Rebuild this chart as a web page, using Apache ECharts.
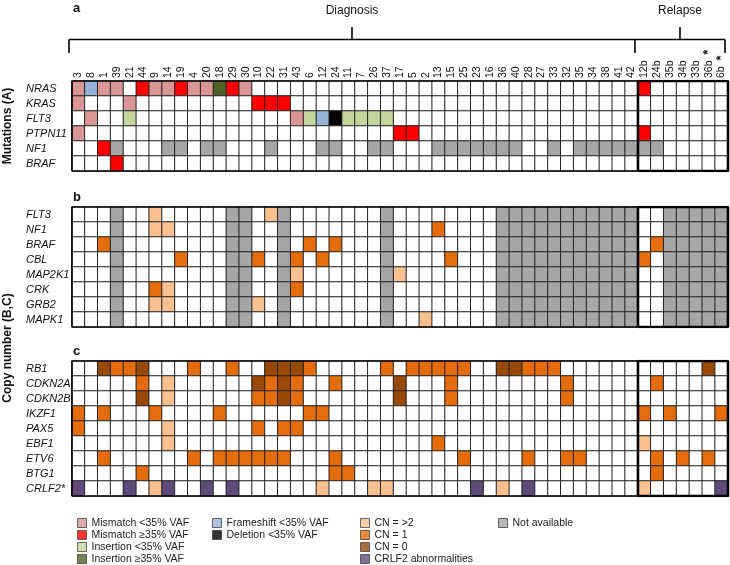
<!DOCTYPE html>
<html><head><meta charset="utf-8">
<script src="https://cdn.jsdelivr.net/npm/echarts@6/dist/echarts.min.js"></script>
<style>html,body{margin:0;padding:0;background:#fff}#c{width:730px;height:565px}</style>
</head><body><div id="c"></div>
<script>
// ---------- data ----------
const columns = ['3','8','1','39','21','44','9','14','19','4','20','18','29','30','10','22','31','43','6','12','24','11','7','26','37','17','5','2','13','15','25','23','16','36','40','28','27','33','32','35','34','38','41','42','12b','24b','35b','34b','33b','36b','6b'];
const relapseStart = 44;          // index of first relapse sample
const starred = ['36b', '6b'];

const genesA = ['NRAS','KRAS','FLT3','PTPN11','NF1','BRAF'];
const genesB = ['FLT3','NF1','BRAF','CBL','MAP2K1','CRK','GRB2','MAPK1'];
const genesC = ['RB1','CDKN2A','CDKN2B','IKZF1','PAX5','EBF1','ETV6','BTG1','CRLF2*'];

// codes: m mismatch<35, M mismatch>=35, i insertion<35, I insertion>=35, f frameshift<35,
// d deletion<35, g CN>2, l CN=1, z CN=0, c CRLF2 abnormality, n not available
const mutA = [
  {m:[0,2,3,6,7,9,10,13], f:[1], M:[5,8,12,44], I:[11]},            // NRAS
  {m:[0,4], M:[14,15,16]},                                          // KRAS
  {m:[1,17], i:[4,18,21,22,23,24], f:[19], d:[20]},                 // FLT3
  {m:[0], M:[25,26,44]},                                            // PTPN11
  {M:[2], n:[3,7,8,10,11,15,19,20,23,24,28,29,30,31,32,33,34,37,39,40,41,42,43,44,45]}, // NF1
  {M:[3]}                                                           // BRAF
];
const naColsB = [3,12,13,16,24,33,34,35,36,37,38,39,40,41,42,43,46,47,48,49,50];
const cnB = [
  {g:[6,15]},                       // FLT3
  {g:[6,7], l:[28]},                // NF1
  {l:[2,18,20,45]},                 // BRAF
  {l:[8,14,17,19,29,44]},           // CBL
  {g:[17,25]},                      // MAP2K1
  {l:[6,17], g:[7]},                // CRK
  {g:[6,7,14]},                     // GRB2
  {g:[27]}                          // MAPK1
];
const cnC = [
  {z:[2,5,15,16,17,33,34,49], l:[3,4,9,12,18,24,26,27,28,29,30,35,36,37]}, // RB1
  {l:[5,15,17,20,29,38,45], g:[7], z:[14,16,25]},                         // CDKN2A
  {z:[5,16,25], g:[7], l:[14,15,17,29,38]},                               // CDKN2B
  {l:[0,2,6,11,18,19,44,46,50]},                                          // IKZF1
  {l:[0,14,16,17], g:[7]},                                                // PAX5
  {g:[7,44], l:[28]},                                                     // EBF1
  {l:[2,9,11,12,13,14,15,16,20,30,35,38,39,45,47,49]},                    // ETV6
  {l:[5,20,21,45]},                                                       // BTG1
  {c:[0,4,7,10,12,31,35,50], g:[6,19,23,24,33,44]}                        // CRLF2*
];

const codes = ['.','m','M','i','I','f','d','g','l','z','c','n'];
const colors = {'.':'#FFFFFF', m:'#D99694', M:'#FF0000', i:'#C3D69B', I:'#4F6228', f:'#95B3D7',
  d:'#000000', g:'#FAC090', l:'#E46C0A', z:'#984807', c:'#604A7B', n:'#A6A6A6'};
const legendCols = [
  [['m','Mismatch <35% VAF'],['M','Mismatch ≥35% VAF'],['i','Insertion <35% VAF'],['I','Insertion ≥35% VAF']],
  [['f','Frameshift <35% VAF'],['d','Deletion <35% VAF']],
  [['g','CN = >2'],['l','CN = 1'],['z','CN = 0'],['c','CRLF2 abnormalities']],
  [['n','Not available']]
];

// ---------- build ----------
function build(specs, naCols) {
  const out = [];
  specs.forEach((spec, r) => {
    for (let c = 0; c < columns.length; c++) {
      let code = (naCols && naCols.includes(c)) ? 'n' : '.';
      for (const k in spec) if (spec[k].includes(c)) code = k;
      out.push([c, r, codes.indexOf(code)]);
    }
  });
  return out;
}
const N = columns.length;
const FONT = 'Liberation Sans, Arial, sans-serif';
const gridsDef = [
  {top: 81, height: 90, genes: genesA, data: build(mutA)},
  {top: 207, height: 120, genes: genesB, data: build(cnB, naColsB)},
  {top: 361, height: 135, genes: genesC, data: build(cnC)}
];

const chart = echarts.init(document.getElementById('c'), null, {renderer: 'canvas'});
const option = {
  animation: false,
  backgroundColor: '#fff',
  grid: gridsDef.map(g => ({left: 72, width: 656, top: g.top, height: g.height})),
  xAxis: [
    ...gridsDef.map((g, i) => ({
      type: 'category', gridIndex: i, data: columns, position: 'top',
      axisLine: {show: false}, axisTick: {show: false}, splitLine: {show: false},
      axisLabel: i === 0 ? {show: true, rotate: 90, interval: 0, margin: 3, fontSize: 10.5,
        fontFamily: FONT, color: '#111',
        rich: {s: {fontSize: 13, fontWeight: 'bold', fontFamily: FONT, color: '#111'}},
        formatter: v => starred.includes(v) ? v + '  {s|*}' : v} : {show: false}
    })),
    ...gridsDef.map((g, i) => ({type: 'value', gridIndex: i, min: 0, max: N, show: false}))
  ],
  yAxis: [
    ...gridsDef.map((g, i) => ({
      type: 'category', gridIndex: i, data: g.genes, inverse: true,
      axisLine: {show: false}, axisTick: {show: false}, splitLine: {show: false},
      axisLabel: {align: 'left', margin: 46, fontSize: 11, fontStyle: 'italic', fontFamily: FONT, color: '#111'}
    })),
    ...gridsDef.map((g, i) => ({type: 'value', gridIndex: i, min: 0, max: 1, show: false}))
  ],
  visualMap: {type: 'piecewise', show: false, dimension: 2, seriesIndex: [0, 1, 2],
    pieces: codes.map((c, i) => ({value: i, color: colors[c]}))},
  legend: legendCols.map((col, j) => ({
    orient: 'vertical', left: [77, 212, 360, 498][j], top: 517, padding: 0,
    icon: 'rect', itemWidth: 9, itemHeight: 9, itemGap: 0, itemTextGap: 6,
    selectedMode: false,
    itemStyle: {borderColor: '#444', borderWidth: 1},
    textStyle: {fontSize: 10.5, fontFamily: FONT, color: '#222', lineHeight: 12},
    data: col.map(e => e[1])
  })),
  series: [
    ...gridsDef.map((g, i) => ({
      type: 'heatmap', xAxisIndex: i, yAxisIndex: i, data: g.data,
      itemStyle: {borderColor: '#222', borderWidth: 1},
      emphasis: {disabled: true}, silent: true
    })),
    ...gridsDef.map((g, i) => ({
      type: 'line', xAxisIndex: 3 + i, yAxisIndex: 3 + i, symbol: 'none', silent: true, z: 5,
      lineStyle: {color: '#000', width: 1.6},
      data: [[0, 0], [N, 0], [N, 1], [0, 1], [0, 0]]
    })),
    ...gridsDef.map((g, i) => ({
      type: 'line', xAxisIndex: 3 + i, yAxisIndex: 3 + i, symbol: 'none', silent: true, z: 6,
      lineStyle: {color: '#000', width: 2.6},
      data: [[relapseStart, 0], [N, 0], [N, 1], [relapseStart, 1], [relapseStart, 0]]
    })),
    ...legendCols.flat().map(e => ({
      type: 'scatter', name: e[1], data: [], itemStyle: {color: colors[e[0]]}
    }))
  ]
};
chart.setOption(option);

// ---------- annotations (bracket, labels) ----------
const px = v => chart.convertToPixel({xAxisIndex: 3}, v);
const xL = px(0) - 3, xS = px(relapseStart) - 3, xR = px(N) - 3;
const xD = (xL + xS) / 2, xRel = (xS + xR) / 2;
const yH = 39.5, yDown = 53, yUp = 27;
const ln = (x1, y1, x2, y2) => ({type: 'line', shape: {x1, y1, x2, y2}, style: {stroke: '#000', lineWidth: 1.6}});
const txt = (text, x, y, extra) => ({type: 'text', x, y,
  style: Object.assign({text, fill: '#111', font: '12px ' + FONT, textAlign: 'center', textVerticalAlign: 'middle'}, extra || {})});
chart.setOption({
  graphic: [
    ln(xL, yH, xR, yH), ln(xL, yH, xL, yDown), ln(xS, yH, xS, yDown), ln(xR, yH, xR, yDown),
    ln(xD, yH, xD, yUp), ln(xRel, yH, xRel, yUp),
    txt('Diagnosis', xD, 11), txt('Relapse', xRel, 11),
    txt('a', px(0) + 1, 8, {font: 'bold 13px ' + FONT, textAlign: 'left'}),
    txt('b', px(0) + 1, 197, {font: 'bold 13px ' + FONT, textAlign: 'left'}),
    txt('c', px(0) + 1, 351, {font: 'bold 13px ' + FONT, textAlign: 'left'}),
    Object.assign(txt('Mutations (A)', 0, 0, {font: 'bold 12px ' + FONT}), {x: 8, y: 126, rotation: Math.PI / 2}),
    Object.assign(txt('Copy number (B,C)', 0, 0, {font: 'bold 12px ' + FONT}), {x: 8, y: 348, rotation: Math.PI / 2})
  ]
});
</script>
</body></html>
